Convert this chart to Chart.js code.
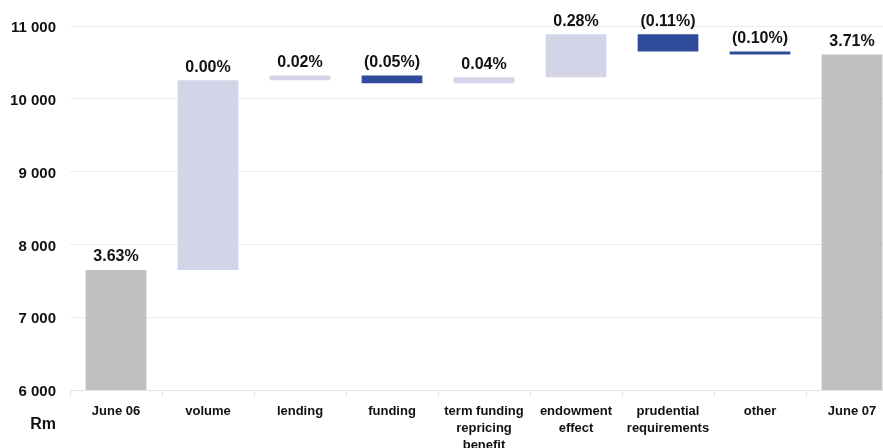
<!DOCTYPE html>
<html>
<head>
<meta charset="utf-8">
<script src="https://cdn.jsdelivr.net/npm/chart.js@4"></script>
<style>
    html, body { margin: 0; padding: 0; background: #fff; overflow: hidden; }
    #wrap { width: 883px; height: 448px; overflow: hidden; }
</style>
</head>
<body>
<div id="wrap"><canvas id="waterfallChart" width="898" height="448"></canvas></div>
<script>
// categories along the x axis (multi-line where the original wraps)
const categories = [
    'June 06', 'volume', 'lending', 'funding',
    ['term funding', 'repricing', 'benefit'],
    ['endowment', 'effect'],
    ['prudential', 'requirements'],
    'other', 'June 07'
];

// floating bar bounds in Rm
const barStart = [6000, 7650, 10255, 10320, 10215, 10295, 10885, 10650, 6000];
const barEnd   = [7650, 10255, 10320, 10215, 10295, 10885, 10650, 10610, 10610];

// margin labels printed above each bar
const marginLabels = ['3.63%', '0.00%', '0.02%', '(0.05%)', '0.04%', '0.28%', '(0.11%)', '(0.10%)', '3.71%'];

// y axis range and step
const yMin = 6000;
const yMax = 11000;
const yStep = 1000;

const totalColor = '#C0C0C0';
const upColor = '#D3D4E8';
const downColor = '#2E4C9A';
const fontFamily = '"Liberation Sans", Arial, sans-serif';

const barColors = barStart.map((s, i) => {
    if (s === yMin) return totalColor;
    return barEnd[i] > s ? upColor : downColor;
});

function formatThousands(v) {
    return String(v).replace(/\B(?=(\d{3})+(?!\d))/g, ' ');
}

// draws the % labels above bars and the "Rm" unit label
const labelPlugin = {
    id: 'marginLabels',
    afterDatasetsDraw(chart) {
        const ctx = chart.ctx;
        const meta = chart.getDatasetMeta(0);
        ctx.save();
        ctx.fillStyle = '#111';
        ctx.font = 'bold 16px ' + fontFamily;
        ctx.textAlign = 'center';
        ctx.textBaseline = 'bottom';
        meta.data.forEach((bar, i) => {
            const top = Math.min(bar.y, bar.base);
            ctx.fillText(marginLabels[i], bar.x, top - 5);
        });
        ctx.font = 'bold 16px ' + fontFamily;
        ctx.textAlign = 'right';
        ctx.textBaseline = 'middle';
        ctx.fillText('Rm', chart.chartArea.left - 14, chart.chartArea.bottom + 35);
        ctx.restore();
    }
};

const ctx = document.getElementById('waterfallChart').getContext('2d');
new Chart(ctx, {
    type: 'bar',
    data: {
        labels: categories,
        datasets: [{
            data: barStart.map((s, i) => [s, barEnd[i]]),
            backgroundColor: barColors,
            borderWidth: 0,
            categoryPercentage: 1,
            barPercentage: 0.66
        }]
    },
    options: {
        responsive: false,
        animation: false,
        layout: { padding: { top: 26, right: 0, left: 0, bottom: 0 } },
        plugins: {
            legend: { display: false },
            tooltip: { enabled: false }
        },
        scales: {
            x: {
                grid: {
                    display: true,
                    drawOnChartArea: false,
                    drawTicks: true,
                    tickLength: 7,
                    color: '#e4e4e4'
                },
                border: { color: '#e4e4e4' },
                ticks: {
                    color: '#111',
                    font: { family: fontFamily, size: 13, weight: 'bold', lineHeight: 1.3 },
                    padding: 6,
                    maxRotation: 0,
                    autoSkip: false
                },
                afterFit(scale) { scale.height = 58; }
            },
            y: {
                min: yMin,
                max: yMax,
                grid: { color: '#ececec', drawTicks: false },
                border: { display: false },
                ticks: {
                    stepSize: yStep,
                    color: '#111',
                    padding: 14,
                    labelOffset: 2,
                    font: { family: fontFamily, size: 15, weight: 'bold' },
                    callback: (v) => formatThousands(v)
                },
                afterFit(scale) { scale.width = 70; }
            }
        }
    },
    plugins: [labelPlugin]
});
</script>
</body>
</html>
